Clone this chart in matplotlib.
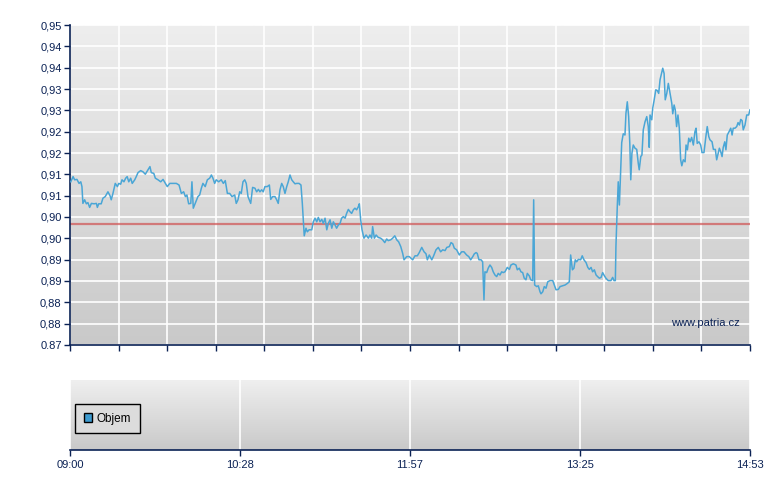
import matplotlib
matplotlib.use('Agg')
import matplotlib.pyplot as plt
import numpy as np
from matplotlib.colors import LinearSegmentedColormap
from matplotlib.patches import Patch

# minutes after 09:00 and traded price
minutes = [
    0.4, 1.6, 2.4, 3.6, 4.7, 5.6, 6.2, 6.7, 7.6, 8.5, 9.3, 10.2, 11.1, 12.5, 13.7, 14.2, 14.9, 16.2,
    17.1, 18.3, 19.7, 20.8, 21.4, 22.3, 23.5, 24.6, 25.3, 26.3, 27.0, 28.0, 28.9, 29.7, 30.5, 31.5,
    32.3, 33.6, 34.4, 35.3, 36.7, 37.9, 39.1, 40.5, 41.5, 42.2, 43.5, 44.3, 45.7, 47.1, 48.3, 49.5,
    50.5, 51.8, 53.5, 55.2, 56.6, 57.8, 59.0, 59.9, 60.7, 61.6, 62.7, 63.3, 64.0, 65.3, 66.4, 67.3,
    68.2, 69.0, 70.2, 71.3, 72.5, 73.4, 74.2, 75.1, 75.9, 77.2, 78.5, 79.6, 80.6, 81.7, 82.9, 84.1,
    85.5, 86.3, 87.2, 88.1, 88.9, 89.8, 90.7, 91.5, 92.4,
    93.8, 94.8, 96.0, 96.9, 97.8, 98.6, 99.5, 100.3, 101.2, 102.4, 103.5, 104.2, 105.2, 106.4, 107.3,
    108.1, 109.0, 109.9, 110.7, 111.6, 112.5, 113.3, 114.2, 115.1, 115.9, 116.8, 117.7, 118.9, 119.9,
    120.6, 121.1, 121.6, 122.5, 123.2, 124.1, 125.5, 126.3, 127.2, 128.1, 128.9, 129.8, 130.7, 131.5,
    132.4, 133.3, 134.1, 135.0, 135.9, 136.7, 137.6, 138.4, 139.3, 140.2, 141.0, 141.9, 142.8, 143.6,
    144.5, 145.4, 146.2, 147.1, 147.9, 148.8, 149.7, 150.2, 150.9, 151.6, 152.6, 153.7, 154.9, 155.7,
    156.6, 157.1, 158.0, 158.9, 160.0, 161.3, 162.3, 163.4, 164.4, 165.2, 166.5, 167.5, 168.6, 169.6,
    170.6, 171.7, 172.7, 173.4, 174.8, 176.1,
    177.9, 179.1, 180.3, 181.3, 182.6, 183.8, 184.8, 185.5, 186.5, 187.8, 188.6, 190.0, 191.2, 192.4,
    193.5, 194.7, 195.6, 196.9, 197.8, 198.7, 199.5, 200.7, 202.1, 203.3, 204.5, 205.9, 207.0, 208.0,
    209.1, 209.9, 210.8, 211.4, 212.3, 213.4, 214.2, 214.9, 215.4, 216.3, 217.1, 218.0, 218.9, 219.7,
    220.6, 221.5, 222.3, 223.2, 224.1, 224.9, 225.8, 227.0, 228.1, 228.9, 230.1, 231.5, 232.2, 233.2,
    234.1, 235.0, 235.8, 236.7, 237.4, 238.4, 239.2, 240.2, 240.7, 241.2, 242.3, 243.1, 244.0, 244.5,
    245.4, 246.2, 247.1, 248.0, 249.2, 250.6, 251.4, 252.3, 253.5, 254.4, 255.8, 257.0, 258.2, 259.2,
    259.9, 260.8, 261.6, 262.3, 263.0, 263.9, 265.1, 265.9, 266.8, 267.9, 268.8, 269.6, 270.5, 271.3,
    272.2, 273.1, 273.9, 274.8, 275.7, 276.5, 277.4, 278.2, 279.4, 280.8, 281.7, 282.4, 283.1,
    283.4, 284.1, 284.6, 285.2, 285.9, 286.4, 287.2, 288.1, 288.6, 289.3, 290.0, 290.6, 291.1, 291.7,
    292.4, 293.3, 294.2, 295.0, 295.5, 296.3, 296.9, 297.6, 298.5, 299.4, 300.2, 300.7, 301.1, 302.0,
    302.5, 303.2, 304.1, 304.9, 305.6, 306.3, 306.8, 307.7, 308.4, 309.0, 309.8, 310.6, 311.5, 312.4,
    312.9, 313.6, 314.2, 314.9, 315.6, 316.3, 317.0, 317.6, 318.4, 319.3, 319.8, 320.5, 321.2, 321.9,
    322.7, 323.6, 324.4, 325.0, 325.6, 326.5, 327.4, 328.1, 329.1, 330.2, 330.8, 331.6, 332.2, 333.3,
    334.0, 335.0, 335.7, 336.4, 337.1, 337.8, 338.5, 339.1, 339.9, 340.5, 341.2, 342.1, 343.0, 343.7,
    344.3, 345.2, 346.1, 346.8, 347.5, 348.2, 348.9, 349.5, 350.4, 351.3, 352.3, 353.0,
]
prices = [
    0.9108, 0.9121, 0.9113, 0.9114, 0.9104, 0.9108, 0.9096, 0.9054, 0.9063, 0.9053, 0.9056, 0.9044,
    0.9054, 0.9053, 0.9054, 0.9044, 0.9053, 0.9053, 0.9067, 0.9071, 0.9083, 0.9073, 0.9063, 0.9079,
    0.9104, 0.9096, 0.9104, 0.9102, 0.9113, 0.9108, 0.9117, 0.9121, 0.9108, 0.9117, 0.9104, 0.9113,
    0.9121, 0.9131, 0.9136, 0.9133, 0.9127, 0.9138, 0.9146, 0.9131, 0.9129, 0.9117, 0.9113, 0.9108,
    0.9114, 0.9104, 0.9096, 0.9104, 0.9104, 0.9104, 0.9100, 0.9079, 0.9083, 0.9071, 0.9075, 0.9053,
    0.9054, 0.9108, 0.9042, 0.9058, 0.9071, 0.9075, 0.9092, 0.9104, 0.9096, 0.9113, 0.9117, 0.9125,
    0.9117, 0.9104, 0.9113, 0.9108, 0.9113, 0.9104, 0.9111, 0.9079, 0.9079, 0.9071, 0.9075, 0.9054,
    0.9063, 0.9083, 0.9079, 0.9108, 0.9113, 0.9104, 0.9071,
    0.9054, 0.9094, 0.9092, 0.9083, 0.9089, 0.9083, 0.9088, 0.9083, 0.9096, 0.9096, 0.9100, 0.9064,
    0.9071, 0.9071, 0.9063, 0.9054, 0.9088, 0.9104, 0.9096, 0.9079, 0.9096, 0.9108, 0.9125, 0.9113,
    0.9108, 0.9103, 0.9104, 0.9104, 0.9100, 0.9054, 0.9013, 0.8973, 0.8992, 0.8983, 0.8988, 0.8988,
    0.9008, 0.9017, 0.9008, 0.9019, 0.9008, 0.9014, 0.9004, 0.9017, 0.8988, 0.9004, 0.9013, 0.8992,
    0.9008, 0.9000, 0.8992, 0.9000, 0.9004, 0.9017, 0.9021, 0.9017, 0.9029, 0.9039, 0.9033, 0.9029,
    0.9038, 0.9042, 0.9038, 0.9046, 0.9053, 0.9013, 0.8988, 0.8967, 0.8975, 0.8967, 0.8975, 0.8967,
    0.8996, 0.8967, 0.8975, 0.8969, 0.8967, 0.8963, 0.8956, 0.8965, 0.8961, 0.8963, 0.8967, 0.8973,
    0.8963, 0.8958, 0.8946, 0.8929, 0.8913, 0.8921, 0.8921,
    0.8913, 0.8923, 0.8923, 0.8931, 0.8944, 0.8933, 0.8928, 0.8913, 0.8925, 0.8913, 0.8921, 0.8938,
    0.8944, 0.8933, 0.8938, 0.8936, 0.8944, 0.8946, 0.8956, 0.8953, 0.8942, 0.8938, 0.8925, 0.8933,
    0.8933, 0.8925, 0.8921, 0.8913, 0.8921, 0.8928, 0.8931, 0.8929, 0.8913, 0.8913, 0.8908, 0.8813,
    0.8883, 0.8881, 0.8892, 0.8900, 0.8894, 0.8883, 0.8875, 0.8871, 0.8879, 0.8875, 0.8883, 0.8881,
    0.8883, 0.8894, 0.8889, 0.8900, 0.8903, 0.8900, 0.8888, 0.8892, 0.8883, 0.8881, 0.8867, 0.8863,
    0.8879, 0.8873, 0.8863, 0.8861, 0.9063, 0.8850, 0.8846, 0.8848, 0.8833, 0.8828, 0.8833, 0.8846,
    0.8842, 0.8858, 0.8861, 0.8861, 0.8850, 0.8838, 0.8839, 0.8846, 0.8848, 0.8850, 0.8854, 0.8858,
    0.8925, 0.8888, 0.8892, 0.8913, 0.8908, 0.8914, 0.8913, 0.8923, 0.8913, 0.8906, 0.8894, 0.8889,
    0.8894, 0.8883, 0.8888, 0.8875, 0.8871, 0.8867, 0.8869, 0.8881, 0.8873, 0.8867, 0.8861, 0.8861,
    0.8869, 0.8861, 0.8861,
    0.8946, 0.9046, 0.9108, 0.9050, 0.9138, 0.9206, 0.9228, 0.9225, 0.9279, 0.9308, 0.9271, 0.9204,
    0.9113, 0.9179, 0.9200, 0.9192, 0.9189, 0.9154, 0.9138, 0.9171, 0.9175, 0.9238, 0.9258, 0.9271,
    0.9246, 0.9194, 0.9275, 0.9263, 0.9292, 0.9311, 0.9338, 0.9336, 0.9329, 0.9363, 0.9373, 0.9392,
    0.9379, 0.9313, 0.9329, 0.9354, 0.9329, 0.9304, 0.9278, 0.9300, 0.9288, 0.9246, 0.9275, 0.9242,
    0.9163, 0.9148, 0.9163, 0.9158, 0.9200, 0.9188, 0.9217, 0.9208, 0.9219, 0.9200, 0.9233, 0.9242,
    0.9204, 0.9208, 0.9200, 0.9181, 0.9181, 0.9225, 0.9246, 0.9221, 0.9213, 0.9208, 0.9189, 0.9189,
    0.9163, 0.9178, 0.9192, 0.9183, 0.9171, 0.9194, 0.9208, 0.9188, 0.9225, 0.9233, 0.9242, 0.9225,
    0.9242, 0.9242, 0.9246, 0.9256, 0.9250, 0.9264, 0.9261, 0.9238, 0.9250, 0.9275, 0.9275, 0.9288,
]
prev_close = 0.9003

price_min, price_max = 0.87, 0.95
price_tick_labels = ['0.87', '0,88', '0,88', '0,89', '0,89', '0,90', '0,90', '0,91',
                     '0,91', '0,92', '0,92', '0,93', '0,93', '0,94', '0,94', '0,95']
session_minutes = 353
time_labels = ['09:00', '10:28', '11:57', '13:25', '14:53']

navy = '#0b2255'
line_blue = '#4aa6d6'


def paint_gradient(axis, top_color, bottom_color):
    cmap = LinearSegmentedColormap.from_list('bg', [top_color, bottom_color])
    grad = np.linspace(0, 1, 256).reshape(-1, 1)
    axis.imshow(grad, extent=[0, 1, 0, 1], transform=axis.transAxes, cmap=cmap,
                aspect='auto', zorder=0, interpolation='bilinear')


def style_axis(axis):
    for side in ['top', 'right']:
        axis.spines[side].set_visible(False)
    for side in ['left', 'bottom']:
        axis.spines[side].set_color(navy)
        axis.spines[side].set_linewidth(1.2)
    axis.tick_params(colors=navy, labelcolor=navy, labelsize=8, length=4, width=1)
    axis.grid(True, color='white', linewidth=1.2)
    axis.set_axisbelow(True)


plt.rcParams['font.family'] = ['Liberation Sans', 'DejaVu Sans']
figure = plt.figure(figsize=(7.8, 4.9), dpi=100)

# price panel
axis = figure.add_axes([70 / 780, 145 / 490, 680 / 780, 320 / 490])
paint_gradient(axis, '#eeeeee', '#c9c9c9')
axis.plot(minutes, prices, color=line_blue, linewidth=1.1, zorder=3)
axis.axhline(prev_close, color='#d05a5a', linewidth=1.6, alpha=0.75, zorder=2)
axis.set_xlim(0, session_minutes)
axis.set_ylim(price_min, price_max)
axis.set_yticks(np.linspace(price_min, price_max, len(price_tick_labels)))
axis.set_yticklabels(price_tick_labels)
axis.set_xticks(np.linspace(0, session_minutes, 15))
axis.set_xticklabels([])
style_axis(axis)
axis.tick_params(axis='y', pad=2)
axis.text(0.935, 0.07, 'www.patria.cz', transform=axis.transAxes, ha='center', va='center',
          color=navy, fontsize=8, zorder=4)

# volume panel
volume_axis = figure.add_axes([70 / 780, 40 / 490, 680 / 780, 70 / 490])
paint_gradient(volume_axis, '#efefef', '#c9c9c9')
volume_axis.set_xlim(0, session_minutes)
volume_axis.set_ylim(0, 1)
volume_axis.set_xticks(np.linspace(0, session_minutes, len(time_labels)))
volume_axis.set_xticklabels(time_labels)
volume_axis.set_yticks([])
style_axis(volume_axis)
volume_axis.spines['left'].set_visible(False)
volume_axis.grid(True, axis='x', color='white', linewidth=1.2)
volume_axis.grid(False, axis='y')
volume_axis.tick_params(axis='x', pad=3)
legend = volume_axis.legend(handles=[Patch(facecolor='#3d9bd0', edgecolor='black', label='Objem')],
                            loc='center left', bbox_to_anchor=(0.0075, 0.45), fancybox=False,
                            framealpha=1, facecolor='#dcdcdc', edgecolor='black', fontsize=8.5,
                            handlelength=0.7, handleheight=0.7, handletextpad=0.4,
                            borderpad=0.75, borderaxespad=0)
legend.get_frame().set_linewidth(1.0)

figure.savefig('out.png', dpi=100)
plt.close(figure)
